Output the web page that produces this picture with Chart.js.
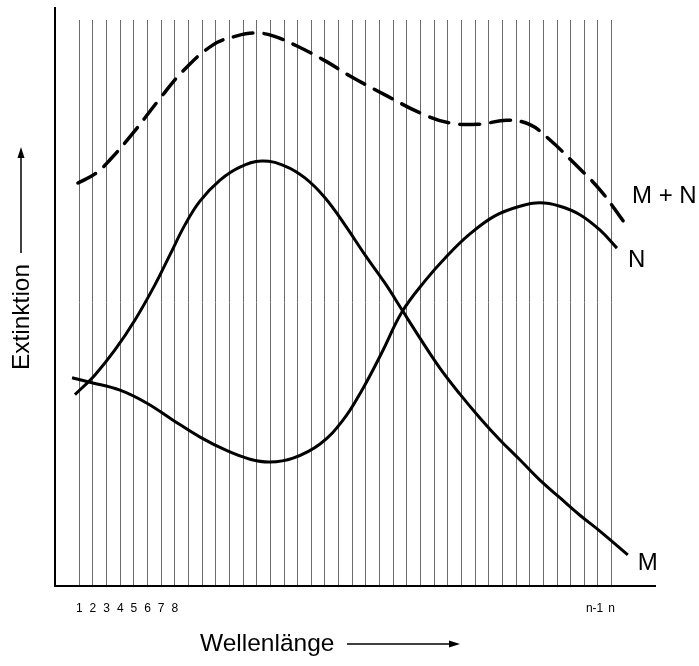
<!DOCTYPE html>
<html>
<head>
<meta charset="utf-8">
<script src="https://cdn.jsdelivr.net/npm/chart.js@4"></script>
<style>
  html, body { margin: 0; padding: 0; background: #fff; }
  #wrap { width: 699px; height: 666px; }
</style>
</head>
<body>
<div id="wrap"><canvas id="chart" width="699" height="666"></canvas></div>
<script>
// wavelength channels 1..n, only the first few and the last two are labelled
const channelCount = 40;
const firstLabels = ['1', '2', '3', '4', '5', '6', '7', '8'];
const lastLabels = ['n-1  ', 'n'];

// absorbance of component M
const mX = [0.68, 2.15, 3.61, 5.08, 6.54, 7.64, 8.74, 9.84, 11.31, 12.77, 14.38, 16.07, 17.53, 19.00, 20.46, 21.93, 23.40, 24.64, 25.96, 27.42, 28.89, 30.35, 31.82, 33.28, 34.75, 36.21, 37.68, 39.14, 41.19];
const mY = [33.8, 37.3, 41.7, 47.0, 53.2, 58.5, 63.8, 68.0, 71.7, 74.0, 75.1, 74.2, 72.1, 68.6, 63.8, 58.5, 53.5, 48.8, 43.8, 38.5, 33.9, 29.7, 25.8, 22.3, 18.7, 15.6, 12.5, 9.7, 5.5];

// absorbance of component N
const nX = [0.47, 1.78, 3.98, 5.96, 7.87, 9.85, 11.82, 13.51, 14.97, 16.66, 18.64, 20.32, 21.71, 23.18, 24.64, 26.33, 27.94, 29.62, 31.45, 33.28, 34.75, 36.21, 37.68, 39.14, 40.39];
const nY = [36.8, 36.0, 34.6, 32.3, 29.3, 26.3, 23.9, 22.4, 21.9, 22.6, 25.1, 29.3, 34.6, 41.3, 48.4, 53.9, 58.3, 62.2, 65.4, 67.1, 67.7, 67.1, 65.6, 62.9, 59.7];

// absorbance of the mixture M + N
const sumX = [0.90, 2.15, 3.25, 4.93, 6.77, 8.60, 10.80, 12.55, 13.87, 15.19, 16.95, 19.15, 20.83, 23.54, 25.96, 28.16, 30.36, 32.34, 34.02, 35.49, 37.17, 39.15, 40.91];
const sumY = [71.2, 72.8, 75.3, 80.0, 85.7, 91.0, 95.6, 97.2, 97.7, 97.2, 95.4, 92.6, 90.1, 86.6, 83.6, 81.8, 81.6, 82.3, 81.5, 78.8, 74.9, 70.0, 64.3];

const FONT = "'Liberation Sans', Arial, Helvetica, sans-serif";

function toPoints(xs, ys) {
  return xs.map((x, i) => ({ x: x, y: ys[i] }));
}

function channelLabel(v) {
  if (v >= 1 && v <= firstLabels.length) return firstLabels[v - 1];
  const fromEnd = channelCount - v;
  if (fromEnd >= 0 && fromEnd < lastLabels.length) return lastLabels[lastLabels.length - 1 - fromEnd];
  return '';
}

function arrow(ctx, x1, y1, x2, y2) {
  const ang = Math.atan2(y2 - y1, x2 - x1);
  const head = 11;
  ctx.beginPath();
  ctx.moveTo(x1, y1);
  ctx.lineTo(x2 - Math.cos(ang) * 6, y2 - Math.sin(ang) * 6);
  ctx.stroke();
  ctx.beginPath();
  ctx.moveTo(x2, y2);
  ctx.lineTo(x2 - head * Math.cos(ang) + 3.5 * Math.sin(ang), y2 - head * Math.sin(ang) - 3.5 * Math.cos(ang));
  ctx.lineTo(x2 - head * Math.cos(ang) - 3.5 * Math.sin(ang), y2 - head * Math.sin(ang) + 3.5 * Math.cos(ang));
  ctx.closePath();
  ctx.fill();
}

// axis titles with arrows, the taller y axis line and the curve names
const decorations = {
  id: 'decorations',
  afterDraw(chart) {
    const ctx = chart.ctx;
    const area = chart.chartArea;
    ctx.save();
    ctx.strokeStyle = '#000';
    ctx.fillStyle = '#000';

    ctx.lineWidth = 2;
    ctx.beginPath();
    ctx.moveTo(area.left, area.top + 1);
    ctx.lineTo(area.left, 7);
    ctx.stroke();

    ctx.font = '24.5px ' + FONT;
    ctx.textBaseline = 'alphabetic';
    ctx.textAlign = 'left';
    ctx.fillText('Wellenlänge', 200, 651);
    ctx.lineWidth = 1.5;
    arrow(ctx, 347, 644, 460, 644);

    ctx.save();
    ctx.translate(29, 317);
    ctx.rotate(-Math.PI / 2);
    ctx.textAlign = 'center';
    ctx.fillText('Extinktion', 0, 0);
    ctx.restore();
    arrow(ctx, 21, 253, 21, 147);

    ctx.font = '24px ' + FONT;
    const names = [
      { ds: 2, text: 'M + N', dx: 8, dy: -19 },
      { ds: 1, text: 'N', dx: 11, dy: 19 },
      { ds: 0, text: 'M', dx: 10, dy: 15 }
    ];
    names.forEach(n => {
      const pts = chart.getDatasetMeta(n.ds).data;
      const last = pts[pts.length - 1];
      ctx.fillText(n.text, last.x + n.dx, last.y + n.dy);
    });
    ctx.restore();
  }
};

new Chart(document.getElementById('chart'), {
  type: 'line',
  data: {
    datasets: [
      { label: 'M', data: toPoints(mX, mY), borderColor: '#000', borderWidth: 3, pointRadius: 0, tension: 0.4, fill: false },
      { label: 'N', data: toPoints(nX, nY), borderColor: '#000', borderWidth: 3, pointRadius: 0, tension: 0.4, fill: false },
      { label: 'M + N', data: toPoints(sumX, sumY), borderColor: '#000', borderWidth: 3.5, borderDash: [20, 11], borderCapStyle: 'round', pointRadius: 0, tension: 0.4, fill: false }
    ]
  },
  options: {
    responsive: false,
    animation: false,
    events: [],
    layout: { padding: { top: 20, right: 44, left: 0, bottom: 0 } },
    plugins: { legend: { display: false }, tooltip: { enabled: false } },
    scales: {
      x: {
        type: 'linear',
        min: -0.78,
        max: 43.18,
        afterBuildTicks: s => { s.ticks = Array.from({ length: channelCount }, (_, i) => ({ value: i + 1 })); },
        afterFit: s => { s.height = 80; },
        grid: { color: '#6b6b6b', lineWidth: 1, drawTicks: false },
        border: { color: '#000', width: 2 },
        ticks: {
          autoSkip: false,
          maxRotation: 0,
          padding: 15,
          color: '#000',
          font: { family: FONT, size: 12 },
          callback: v => channelLabel(v)
        }
      },
      y: {
        min: 0,
        max: 100,
        afterFit: s => { s.width = 55; },
        grid: { display: false },
        border: { color: '#000', width: 2 },
        ticks: { display: false }
      }
    }
  },
  plugins: [decorations]
});
</script>
</body>
</html>
